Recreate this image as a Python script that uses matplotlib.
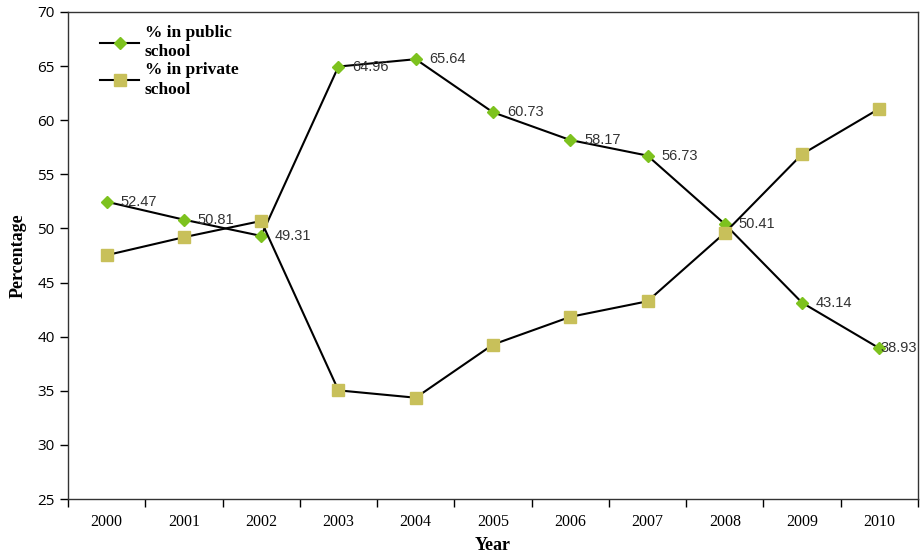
import matplotlib
matplotlib.use("Agg")
import matplotlib.pyplot as plt
from matplotlib.ticker import FixedLocator

years = ["2000", "2001", "2002", "2003", "2004", "2005", "2006", "2007", "2008", "2009", "2010"]
public = [52.47, 50.81, 49.31, 64.96, 65.64, 60.73, 58.17, 56.73, 50.41, 43.14, 38.93]
private = [47.53, 49.19, 50.69, 35.04, 34.36, 39.27, 41.83, 43.27, 49.59, 56.86, 61.07]
yticks = [25, 30, 35, 40, 45, 50, 55, 60, 65, 70]

fig = plt.figure(figsize=(9.21, 5.58), dpi=100)
ax = fig.add_axes([0.0738, 0.1057, 0.9229, 0.8728])

x = list(range(len(years)))
ax.plot(x, public, color="black", lw=1.5, marker="D", markersize=6,
        markerfacecolor="#7DC21E", markeredgecolor="#7DC21E", label="% in public\nschool", zorder=3)
ax.plot(x, private, color="black", lw=1.5, marker="s", markersize=8,
        markerfacecolor="#C8C05A", markeredgecolor="#C8C05A", label="% in private\nschool", zorder=3)

for i, (xi, v) in enumerate(zip(x, public)):
    dx = 1 if i == len(public) - 1 else 10
    ax.annotate(f"{v:.2f}", (xi, v), xytext=(dx, 0), textcoords="offset points",
                va="center", ha="left", fontsize=10.5, family="Liberation Sans", color="#333333",
                zorder=4)

ax.set_xlim(-0.5, 10.5)
ax.set_ylim(25, 70)
ax.set_yticks(yticks)
ax.set_xticks(x)
ax.set_xticklabels(years, family="Liberation Serif", fontsize=11.5)
ax.xaxis.set_minor_locator(FixedLocator([i - 0.5 for i in range(len(years) + 1)]))
ax.tick_params(axis="x", which="major", length=0, pad=11)
ax.tick_params(axis="x", which="minor", length=6, direction="out", width=1)
ax.tick_params(axis="y", length=6, direction="out", width=1, labelsize=11)
for lbl in ax.get_yticklabels():
    lbl.set_family("Open Sans")

for s in ax.spines.values():
    s.set_linewidth(1)
    s.set_color("#333333")

ax.set_xlabel("Year", family="Liberation Serif", fontweight="bold", fontsize=13, labelpad=5)
ax.set_ylabel("Percentage", family="Liberation Serif", fontweight="bold", fontsize=13, labelpad=8)

leg = ax.legend(loc="upper left", bbox_to_anchor=(0.029, 0.988), frameon=False,
                prop={"family": "Liberation Serif", "weight": "bold", "size": 12.5},
                handlelength=2.3, handletextpad=0.3, labelspacing=0.12, borderaxespad=0)
for t in leg.get_texts():
    t.set_linespacing(1.3)

fig.savefig("out.png", dpi=100)
